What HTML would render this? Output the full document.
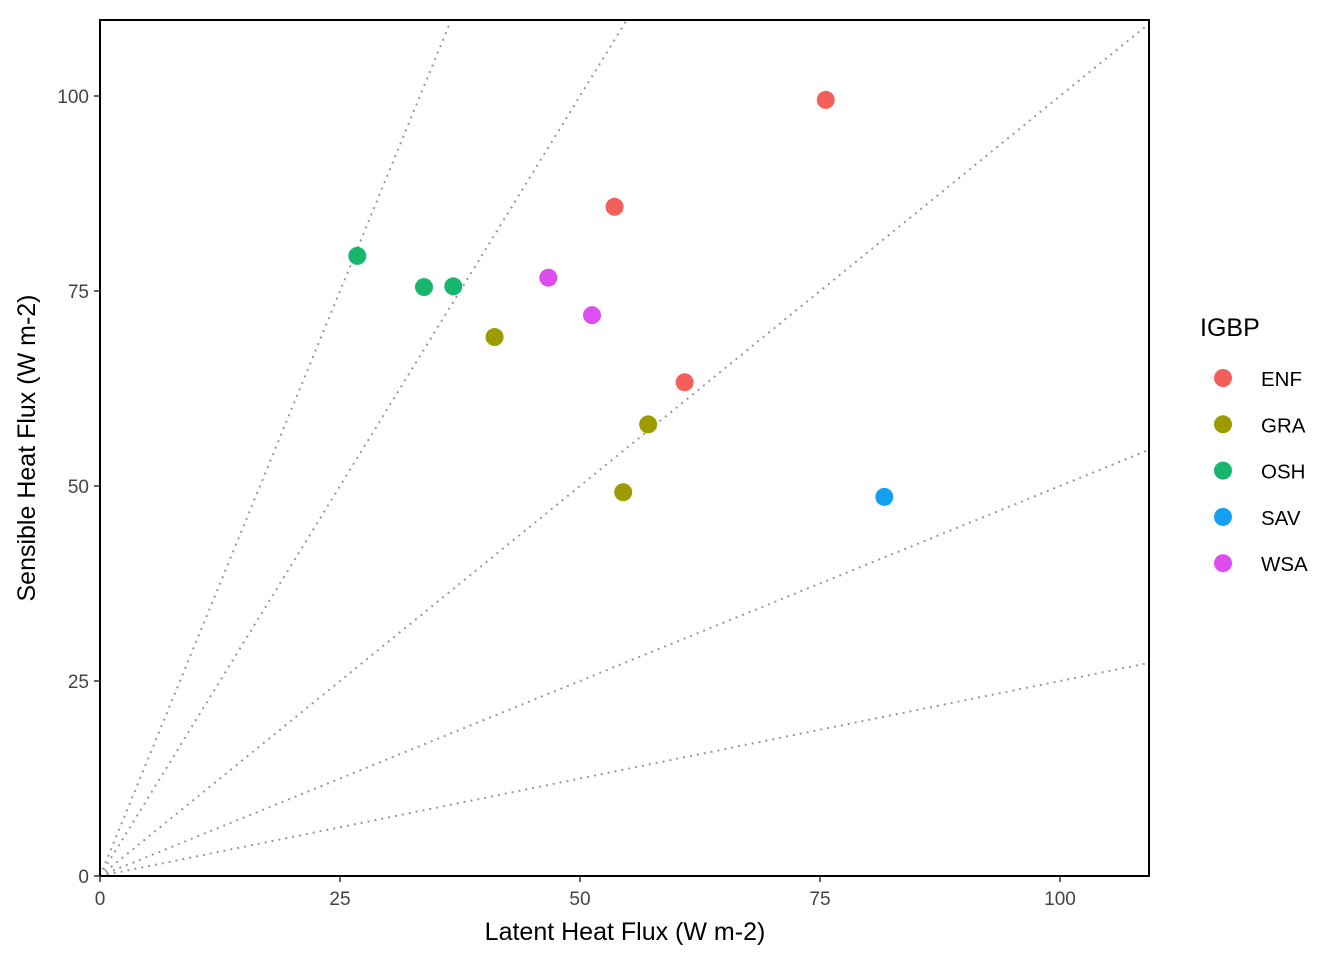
<!DOCTYPE html>
<html><head><meta charset="utf-8"><style>body{margin:0;background:#fff}svg{display:block;font-family:"Liberation Sans",Arial,sans-serif}</style></head>
<body>
<svg id="chart" width="1344" height="960"></svg>
<script>
const categories=["ENF","GRA","OSH","SAV","WSA"];
const colors=["#F3605A","#9C9C00","#17B56E","#14A0F0","#DE4DEE"];
const latentValues=[75.6,53.6,60.9,41.1,57.1,54.5,26.8,33.75,36.8,81.7,46.7,51.25];
const sensibleValues=[99.5,85.8,63.3,69.1,57.9,49.2,79.5,75.5,75.6,48.6,76.7,71.9];
const groups=["ENF","ENF","ENF","GRA","GRA","GRA","OSH","OSH","OSH","SAV","WSA","WSA"];
const bowenRatios=[3,2,1,0.5,0.25];
const xTicks=[0,25,50,75,100];
const yTicks=[0,25,50,75,100];
const NS="http://www.w3.org/2000/svg";
const svg=document.getElementById('chart');
const L=100,R=1149,T=20,B=876,xMax=109.3,yMax=109.7;
const sx=v=>L+v*9.6, sy=v=>B-v*7.8;
function mk(t,a,p){const e=document.createElementNS(NS,t);for(const k in a)e.setAttribute(k,a[k]);(p||svg).appendChild(e);return e;}
const clip=mk('clipPath',{id:'pc'});mk('rect',{x:L,y:T,width:R-L,height:B-T},clip);
bowenRatios.forEach(r=>{
  let x2=xMax,y2=x2*r; if(y2>yMax){y2=yMax;x2=y2/r;}
  const l=mk('line',{x1:sx(0),y1:sy(0),x2:sx(x2),y2:sy(y2),stroke:'#999','stroke-width':2,'stroke-dasharray':'2,5','clip-path':'url(#pc)'});
  
  
});
latentValues.forEach((v,i)=>{
  const c=mk('circle',{cx:sx(v),cy:sy(sensibleValues[i]),r:9,fill:colors[categories.indexOf(groups[i])]});
  
  
});
const fr=mk('rect',{x:L,y:T,width:R-L,height:B-T,fill:'none',stroke:'#000','stroke-width':2});


xTicks.forEach(t=>{
  mk('line',{x1:sx(t),x2:sx(t),y1:B,y2:B+6,stroke:'#333','stroke-width':1.5});
  const tx=mk('text',{x:sx(t),y:905,'text-anchor':'middle','font-size':19,fill:'#444'});tx.textContent=t;
  
  
});
yTicks.forEach(t=>{
  mk('line',{x1:L-6,x2:L,y1:sy(t),y2:sy(t),stroke:'#333','stroke-width':1.5});
  const tx=mk('text',{x:89,y:sy(t)+7,'text-anchor':'end','font-size':19,fill:'#444'});tx.textContent=t;
  
  
});
const xt=mk('text',{x:625,y:940,'text-anchor':'middle','font-size':25});xt.textContent='Latent Heat Flux (W m-2)';


const yt=mk('text',{x:0,y:0,'text-anchor':'middle','font-size':25,transform:'translate(35,448) rotate(-90)'});yt.textContent='Sensible Heat Flux (W m-2)';


const lt=mk('text',{x:1200,y:336,'font-size':25});lt.textContent='IGBP';


categories.forEach((c,i)=>{
  const y=378+i*46.3;
  const g=mk('g',{});
  
  
  mk('circle',{cx:1223,cy:y,r:9,fill:colors[i]},g);
  const t=mk('text',{x:1261,y:y+8,'font-size':20.5},g);t.textContent=c;
});
</script>
</body></html>
